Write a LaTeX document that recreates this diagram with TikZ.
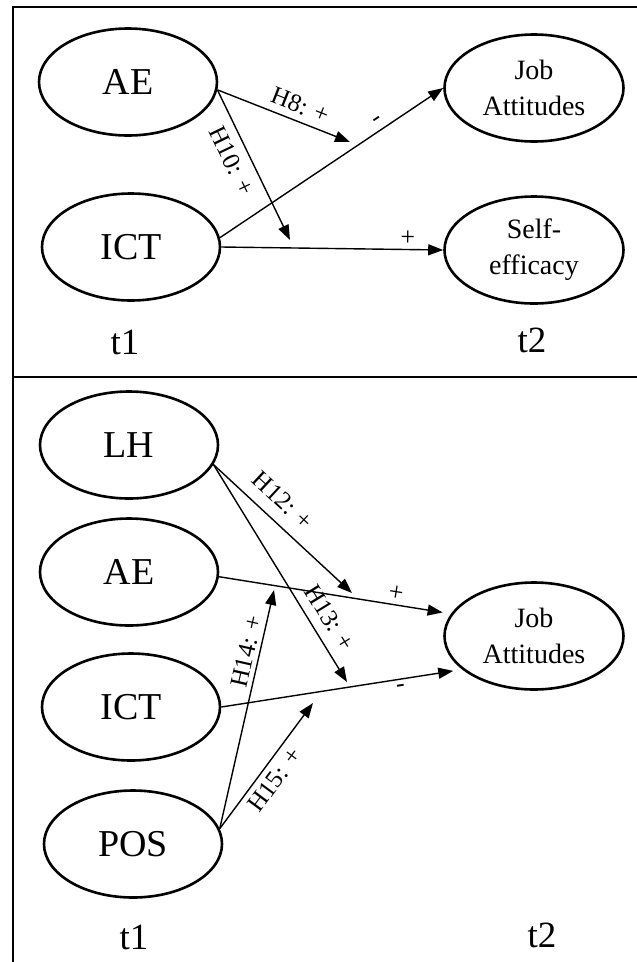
\documentclass[tikz,border=0pt]{standalone}
\usepackage{fontspec}
\setmainfont{Liberation Serif}
\usetikzlibrary{shapes.geometric,arrows.meta}
\begin{document}
\begin{tikzpicture}[x=1pt,y=-1pt,
  var/.style={ellipse,draw,line width=2.6pt,minimum width=178pt,minimum height=107pt,inner sep=0pt,font=\fontsize{38}{40}\selectfont},
  outc/.style={ellipse,draw,line width=2.6pt,minimum width=179pt,minimum height=107pt,inner sep=0pt,align=center,font=\fontsize{28}{36}\selectfont},
  tlab/.style={font=\fontsize{37}{40}\selectfont,inner sep=0pt},
  arr/.style={line width=1.4pt,-{Triangle[length=15pt,width=11pt]}},
  lab/.style={font=\fontsize{25}{27}\selectfont,sloped,inner sep=2pt},
  sgn/.style={font=\fontsize{26}{28}\selectfont,sloped,inner sep=2pt},
  frame/.style={line width=2.7pt,line join=miter}
]
\useasboundingbox (0,0) rectangle (637,962);
% frame
\draw[frame] (637,7) -- (13,7) -- (13,962);
\draw[frame] (13,377) -- (637,377);

% ---------- top panel ----------
\node[var] (AE1) at (128,82) {AE};
\node[var] (ICT1) at (131,247) {ICT};
\node[outc] (JA1) at (534,88) {Job\\Attitudes};
\node[outc] (SE1) at (534,250) {Self-\\efficacy};
\node[tlab] (T1a) at (125,342) {t1};
\node[tlab] (T2a) at (532,340) {t2};

\coordinate (h8) at (350,142);
\coordinate (h10) at (290,240);

\draw[arr] (AE1.-5) -- node[lab,above=4.7pt,pos=0.58] {H8: +} (h8);
\draw[arr] (AE1.-5) -- node[lab,below=6.7pt,pos=0.42] {H10: +} (h10);
\draw[arr] (ICT1.6) -- node[sgn,above=2pt,pos=0.73] {-} (JA1.west);
\draw[arr] (ICT1.east) -- node[sgn,above=1.5pt,pos=0.84] {+} (SE1.west);

% ---------- bottom panel ----------
\node[var] (LH) at (129,445) {LH};
\node[var] (AE2) at (129,572) {AE};
\node[var] (ICT2) at (131,707) {ICT};
\node[var] (POS) at (133,844) {POS};
\node[outc] (JA2) at (534,636) {Job\\Attitudes};
\node[tlab] (T1b) at (134,937) {t1};
\node[tlab] (T2b) at (542,935) {t2};

\coordinate (h12) at (352,593);
\coordinate (h13) at (347,682);
\coordinate (h14) at (274,590);
\coordinate (h15) at (313,703);

\draw[arr] (LH.-13) -- node[lab,above=9.7pt,pos=0.40] {H12: +} (h12);
\draw[arr] (LH.-13) -- node[lab,above=7.7pt,pos=0.75] {H13: +} (h13);
\draw[arr,shorten >=8.5pt] (AE2.-3) -- node[sgn,above=1.5pt,pos=0.755] {+} (JA2.165);
\draw[arr,shorten >=9pt] (ICT2.east) -- node[sgn,below=3pt,pos=0.74] {-} (JA2.205);
\draw[arr] (POS.10) -- node[lab,above=1.7pt,pos=0.73] {H14: +} (h14);
\draw[arr] (POS.10) -- node[lab,below=3.7pt,pos=0.46] {H15: +} (h15);
\end{tikzpicture}
\end{document}
